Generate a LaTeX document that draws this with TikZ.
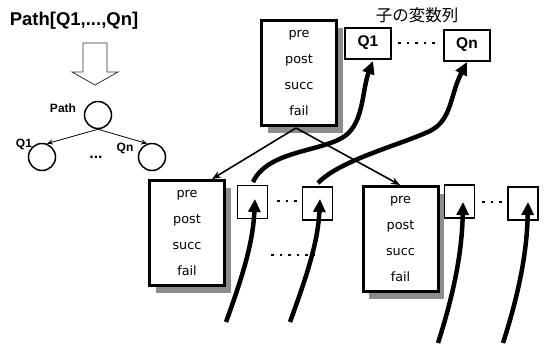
\documentclass[tikz,border=0pt]{standalone}
\usepackage{fontspec}
\setmainfont{Liberation Sans}
\newfontfamily\boxfont{DejaVu Sans}
\newfontfamily\cjk{Noto Sans CJK JP}
\usetikzlibrary{arrows.meta,shadows}
\begin{document}
\begin{tikzpicture}[x=1pt,y=-1pt,
  frame/.style={draw,line width=3pt,minimum width=75pt,minimum height=105pt,inner sep=0pt,
    align=center,font=\boxfont\fontsize{12.8}{26}\selectfont,fill=white,
    drop shadow={shadow xshift=6pt,shadow yshift=-7pt,fill=black!45,opacity=1}},
  slot/.style={draw,line width=1.5pt,minimum width=30pt,minimum height=33pt,inner sep=0pt},
  qbox/.style={draw,line width=2pt,minimum width=46pt,minimum height=31pt,inner sep=0pt,font=\bfseries\fontsize{15.5}{15.5}\selectfont},
  tnode/.style={circle,draw,line width=1.5pt,minimum size=27pt,inner sep=0pt},
  tlabel/.style={font=\bfseries\fontsize{12}{12}\selectfont,inner sep=0pt},
  fat/.style={line width=4.5pt,-{Triangle[length=13pt,width=12pt]}},
  thin/.style={line width=1.6pt,-{Stealth[length=9pt,width=7pt]}},
  dots/.style={line width=2.6pt,dash pattern=on 2.6pt off 6pt}
]
\useasboundingbox (0,0) rectangle (547,349);

% left part
\node[font=\bfseries\fontsize{18.5}{18.5}\selectfont,inner sep=0pt] (title) at (74,21) {Path[Q1,...,Qn]};
\draw[line width=0.8pt,draw=black!80] (83,43) -- (107,43) -- (107,72) -- (118,72) -- (95,85) -- (72,72) -- (83,72) -- cycle;
\node[tnode] (p) at (98,115) {};
\node[tnode] (q1) at (42,157) {};
\node[tnode] (qn) at (152,157) {};
\node[tlabel] (pl) at (63,108) {Path};
\node[tlabel] (q1l) at (24,144) {Q1};
\node[tlabel] (qnl) at (125,148) {Qn};
\node[font=\bfseries\fontsize{16}{16}\selectfont,inner sep=0pt] (tdots) at (96,157) {...};
\draw[line width=0.8pt,-{Stealth[length=6pt,width=5pt]}] (p.south) -- (q1.70);
\draw[line width=0.8pt,-{Stealth[length=6pt,width=5pt]}] (p.south) -- (qn.110);

% top frame
\node[frame] (top) at (299,73) {pre\\post\\succ\\fail};
\node[qbox] (Q1) at (368,43) {Q1};
\node[qbox] (Qn) at (467,45) {Qn};
\node[font=\cjk\fontsize{16.5}{16.5}\selectfont,inner sep=0pt] (lab) at (417,15) {子の変数列};
\draw[dots] (398,43) -- (440,43);

% lower left
\node[frame] (L) at (187,233) {pre\\post\\succ\\fail};
\node[slot] (b1) at (252.5,202) {};
\node[slot] (b2) at (317.5,203.5) {};
\draw[dots] (277,201) -- (298,201);
\draw[dots] (271,255) -- (315,255);

% lower right
\node[frame] (R) at (400.5,239) {pre\\post\\succ\\fail};
\node[slot] (b3) at (459.5,201.5) {};
\node[slot] (b4) at (523,203.5) {};
\draw[dots] (482,202) -- (503,202);

% thin arrows
\coordinate (ts) at (296,128);
\draw[thin] (ts) -- (212,179);
\draw[thin] (ts) -- (400,185);

% thick curves up to Q boxes
\coordinate (a1) at (253,182);
\coordinate (a2) at (318,183);
\draw[fat] (a1) .. controls (268,150) and (322,152) .. (345,136) .. controls (364,122) and (362,90) .. (373,61);
\draw[fat] (a2) .. controls (340,160) and (400,145) .. (430,131) .. controls (452,120) and (450,95) .. (467,62);

% thick curves from below
\coordinate (s1) at (226,322);
\coordinate (s2) at (290,322);
\coordinate (s3) at (438,343);
\coordinate (s4) at (503,343);
\draw[fat] (s1) .. controls (245,270) and (253,240) .. (255,199);
\draw[fat] (s2) .. controls (309,270) and (318,240) .. (320,199);
\draw[fat] (s3) .. controls (455,290) and (462,250) .. (463,202);
\draw[fat] (s4) .. controls (520,290) and (527,250) .. (528,202);
\end{tikzpicture}
\end{document}
